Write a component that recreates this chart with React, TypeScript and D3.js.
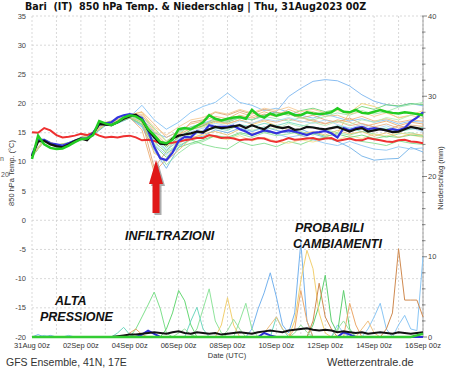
import React, { useEffect } from "react";
import * as d3 from "d3";

const width = 450;
const height = 369;
const plot = { left: 32, right: 423, top: 16, bottom: 337 };

const dateLabels = [
  "31Aug 00z", "02Sep 00z", "04Sep 00z", "06Sep 00z", "08Sep 00z",
  "10Sep 00z", "12Sep 00z", "14Sep 00z", "16Sep 00z",
];
const tempTicks = [35, 30, 25, 20, 15, 10, 5, 0, -5, -10, -15, -20];
const precipTicks = [40, 30, 20, 10, 0];

// 6-hourly main curves (°C)
const meanTemp = [
  11.0, 13.5, 13.6, 13.0, 12.7, 12.5, 13.0, 13.6, 14.0, 13.7,
  14.8, 16.5, 16.4, 16.3, 16.8, 17.4, 17.8, 18.1, 17.2, 15.5,
  14.2, 13.1, 13.0, 14.0, 14.5, 14.7, 14.9, 15.2, 15.1, 15.6,
  16.0, 15.8, 15.9, 16.1, 16.3, 15.8, 16.3, 15.9, 15.6, 16.3,
  16.0, 15.8, 16.0, 15.5, 15.6, 16.0, 15.9, 15.7, 15.6, 15.8,
  16.0, 15.6, 15.2, 15.6, 15.8, 15.2, 15.4, 15.6, 15.4, 15.1,
  15.2, 15.6, 16.0, 15.8, 15.5,
];
const opTemp = [
  10.5, 14.5, 13.0, 12.4, 12.2, 12.3, 12.8, 13.4, 13.9, 14.0,
  14.6, 17.0, 16.6, 16.3, 16.8, 17.6, 18.0, 17.8, 17.2, 15.6,
  14.6, 13.4, 13.2, 13.8, 15.6, 15.8, 15.6, 16.2, 16.8, 18.0,
  17.4, 17.1, 17.4, 17.6, 17.7, 17.4, 18.9, 18.0, 17.6, 18.3,
  17.9, 18.2, 18.5, 18.0, 18.0, 18.5, 18.3, 18.2, 18.3, 18.5,
  19.2, 18.6, 18.5, 18.9, 18.4, 18.3, 18.6, 18.9, 18.6, 18.4,
  18.3, 18.5, 18.4, 18.2, 18.0,
];
const ctrlTemp = [
  11.2, 13.8, 13.8, 13.2, 13.0, 12.8, 13.2, 13.6, 14.0, 14.0,
  15.0, 16.4, 16.6, 16.8, 17.6, 18.0, 18.2, 18.0, 17.5, 15.4,
  12.6, 10.6, 10.3, 11.6, 13.6, 14.3, 14.2, 15.2, 15.0, 16.3,
  16.0, 16.0, 16.0, 16.2, 15.6, 15.2, 14.6, 15.0, 15.4, 15.2,
  14.9, 15.2, 15.4, 15.2, 14.9, 14.6, 15.0, 15.1, 15.3, 14.9,
  14.2, 15.8, 15.4, 15.8, 16.0, 15.6, 15.8, 15.6, 15.4, 15.6,
  15.4, 15.8, 16.9, 17.6, 18.5,
];
const climTemp = [
  15.1, 15.0, 15.8, 15.4, 14.6, 14.2, 14.3, 14.5, 14.8, 14.6,
  15.0, 14.5, 14.2, 14.3, 14.2, 14.4, 14.5, 14.2, 13.7, 13.8,
  13.6, 13.2, 13.2, 13.3, 13.5, 13.7, 13.9, 14.1, 14.1, 14.6,
  14.4, 14.1, 14.2, 14.0, 13.7, 13.9, 13.8, 14.1, 14.0, 13.6,
  13.4, 13.7, 14.1, 13.8, 13.9, 14.0, 14.1, 13.8, 14.0, 14.1,
  13.6, 13.8, 14.0, 13.7, 13.7, 14.1, 13.9, 13.7, 13.5, 13.4,
  13.7, 13.8, 13.5, 13.4, 13.2,
];

// 12-hourly ensemble members (°C)
const memberColors = [
  "#74b2ee", "#80bff5", "#6aaee8", "#eca86a", "#dca070", "#f2d070",
  "#8ee49a", "#7edc8a", "#66d070", "#70d8c0", "#f0b47a", "#8cc4f2",
  "#9ae8a6", "#f5dc8a", "#e2b088", "#6fd67c", "#a8d8f8", "#f6c890",
  "#b4ecb4", "#e8c070",
];
const memberTemps = [
  [11.1, 13.8, 12.8, 13.2, 14.1, 14.9, 16.4, 16.9, 17.9, 17.5, 15.0, 14.2, 15.2, 16.0, 16.6, 17.4, 17.0, 17.8, 17.2, 18.0, 18.6, 21.2, 22.6, 23.8, 24.1, 23.9, 23.0, 21.5, 20.4, 19.8, 19.5, 20.0, 19.6],
  [11.0, 13.7, 12.6, 13.0, 13.9, 14.8, 16.3, 17.0, 17.7, 19.7, 17.2, 15.6, 16.8, 18.5, 19.5, 20.2, 21.8, 20.2, 19.7, 18.8, 19.2, 18.5, 18.0, 17.5, 18.2, 17.6, 17.0, 17.4, 16.8, 17.2, 16.5, 17.0, 16.8],
  [11.2, 13.6, 12.5, 12.9, 13.8, 14.6, 16.2, 16.6, 17.5, 16.0, 12.0, 8.9, 12.5, 14.0, 14.4, 15.5, 15.0, 15.8, 15.2, 16.0, 15.4, 15.0, 15.6, 14.8, 14.2, 13.5, 12.5, 11.0, 10.3, 10.5, 10.6, 12.5, 11.7],
  [10.9, 13.7, 12.8, 13.0, 14.0, 14.7, 16.5, 16.9, 17.6, 15.5, 8.2, 10.5, 13.8, 15.5, 16.2, 17.5, 17.0, 18.0, 17.5, 18.2, 17.8, 18.5, 17.6, 17.0, 16.5, 17.2, 16.8, 16.0, 16.5, 17.0, 16.2, 16.8, 16.5],
  [11.0, 13.5, 12.6, 13.1, 13.9, 14.9, 16.6, 17.2, 17.9, 17.0, 9.0, 11.8, 14.5, 16.8, 17.2, 18.5, 18.0, 18.8, 18.2, 19.0, 18.5, 18.2, 17.5, 18.0, 17.2, 16.8, 17.5, 16.5, 16.0, 15.5, 16.2, 15.8, 16.0],
  [11.1, 13.9, 12.9, 13.2, 14.2, 15.1, 16.8, 17.3, 18.1, 18.5, 15.5, 13.5, 14.8, 15.6, 16.0, 16.8, 16.5, 17.2, 16.4, 17.0, 16.2, 15.5, 14.5, 13.8, 14.2, 15.0, 18.5, 20.0, 19.5, 18.6, 17.5, 18.0, 18.8],
  [10.8, 13.6, 12.7, 13.0, 14.0, 14.8, 16.4, 16.9, 17.7, 16.8, 12.5, 9.5, 11.5, 13.0, 13.5, 14.5, 14.0, 14.8, 14.2, 15.0, 14.5, 14.8, 15.2, 14.6, 15.5, 15.0, 14.6, 15.2, 14.8, 14.2, 14.8, 15.0, 14.5],
  [10.9, 13.8, 12.8, 13.1, 14.1, 14.9, 16.5, 17.0, 17.6, 16.5, 13.5, 11.5, 12.8, 13.8, 13.0, 12.5, 12.2, 13.5, 12.8, 13.2, 12.6, 13.5, 13.0, 13.8, 14.2, 13.6, 14.0, 13.5, 13.2, 12.8, 13.6, 13.2, 13.0],
  [11.0, 13.7, 12.9, 13.3, 14.2, 15.0, 16.7, 17.1, 17.9, 17.6, 14.5, 12.5, 14.2, 15.5, 16.2, 17.0, 16.8, 17.6, 17.2, 18.0, 18.4, 18.0, 18.8, 19.2, 18.6, 19.0, 18.5, 19.5, 19.0, 19.8, 19.6, 20.0, 19.8],
  [11.1, 13.6, 12.7, 13.1, 14.0, 14.8, 16.3, 16.8, 17.6, 17.2, 13.8, 12.0, 13.6, 14.8, 15.2, 15.8, 15.4, 16.4, 16.0, 16.6, 16.2, 16.8, 16.3, 16.0, 15.6, 16.2, 15.8, 15.2, 15.5, 15.8, 15.2, 15.6, 15.9],
  [11.0, 13.8, 12.9, 13.2, 14.1, 14.9, 16.6, 17.1, 18.0, 18.6, 16.5, 14.2, 15.2, 16.5, 17.0, 17.8, 17.4, 18.5, 17.8, 18.6, 17.9, 19.0, 18.2, 18.6, 17.8, 18.0, 17.2, 17.8, 17.0, 17.4, 16.8, 17.2, 17.0],
  [11.2, 13.7, 12.6, 13.0, 13.9, 14.7, 16.4, 16.8, 17.6, 16.2, 13.0, 11.2, 13.2, 14.5, 15.4, 16.0, 15.8, 16.5, 15.2, 15.8, 14.8, 14.2, 14.6, 13.8, 13.2, 12.8, 13.5, 12.8, 12.2, 12.0, 12.6, 12.2, 12.4],
  [10.9, 13.9, 12.8, 13.1, 14.0, 15.0, 16.6, 17.2, 18.0, 17.8, 15.8, 13.6, 15.0, 16.0, 16.5, 17.2, 17.0, 17.5, 17.2, 17.8, 17.4, 17.0, 17.6, 17.2, 17.8, 18.4, 18.0, 18.8, 18.2, 18.6, 19.4, 19.8, 20.2],
  [11.0, 13.7, 12.7, 13.0, 14.0, 14.9, 16.5, 17.0, 17.8, 17.4, 14.8, 12.8, 13.5, 14.2, 14.6, 14.2, 13.8, 14.5, 13.6, 14.2, 13.5, 13.2, 13.8, 13.4, 14.0, 13.8, 14.5, 14.0, 14.8, 14.4, 15.0, 14.6, 14.2],
  [11.1, 13.8, 12.8, 13.2, 14.1, 15.0, 16.6, 17.2, 18.1, 18.0, 15.2, 13.0, 14.6, 15.8, 16.4, 17.0, 16.6, 17.2, 16.6, 17.2, 16.8, 17.4, 16.8, 17.2, 16.6, 17.0, 16.2, 16.6, 16.0, 16.5, 15.8, 16.3, 16.1],
  [10.9, 13.6, 12.6, 13.0, 13.9, 14.7, 16.3, 16.7, 17.5, 16.4, 12.8, 10.8, 12.5, 13.2, 13.8, 14.5, 14.2, 15.0, 14.6, 15.2, 14.8, 15.4, 14.6, 15.0, 14.4, 14.8, 14.2, 14.6, 14.0, 14.4, 14.2, 14.6, 14.4],
  [11.0, 13.6, 12.7, 13.1, 14.0, 14.8, 16.4, 17.0, 17.8, 17.0, 14.0, 12.2, 14.0, 15.2, 15.8, 16.6, 16.2, 17.0, 16.6, 17.4, 17.0, 17.6, 17.0, 16.6, 17.2, 16.4, 15.8, 16.4, 15.6, 16.2, 15.4, 15.8, 15.2],
  [11.1, 13.7, 12.8, 13.2, 14.1, 15.0, 16.6, 17.1, 17.9, 18.2, 16.0, 14.6, 16.0, 17.2, 17.6, 18.6, 18.2, 19.0, 18.4, 19.2, 18.8, 19.4, 18.6, 19.0, 18.4, 18.8, 18.2, 18.6, 17.8, 18.4, 17.6, 18.0, 17.4],
  [10.9, 13.8, 12.7, 13.0, 14.0, 14.8, 16.4, 16.9, 17.7, 17.0, 13.2, 11.8, 13.0, 14.6, 15.0, 16.2, 15.6, 16.2, 15.4, 16.0, 15.6, 16.6, 16.0, 16.8, 16.2, 17.0, 16.4, 17.2, 16.8, 17.6, 17.2, 18.0, 18.4],
  [11.0, 13.6, 12.6, 13.0, 13.9, 14.8, 16.4, 16.9, 17.6, 16.8, 11.5, 10.2, 12.0, 14.0, 14.8, 15.2, 14.6, 15.6, 14.8, 15.4, 14.8, 15.6, 14.8, 15.2, 14.6, 15.4, 14.8, 15.2, 14.4, 15.0, 14.2, 14.8, 14.6],
];

// 6-hourly precipitation (mm)
const meanPrecip = [
  0, 0, 0, 0, 0, 0, 0, 0, 0, 0,
  0, 0, 0, 0, 0.1, 0.2, 0.3, 0.3, 0.4, 0.5,
  0.6, 0.5, 0.4, 0.6, 0.7, 0.5, 0.4, 0.6, 0.5, 0.4,
  0.5, 0.3, 0.4, 0.5, 0.6, 0.5, 0.4, 0.6, 0.7, 0.8,
  0.7, 0.6, 0.8, 0.9, 1.0, 1.1, 0.9, 0.8, 0.9, 0.8,
  0.6, 0.7, 0.6, 0.5, 0.6, 0.4, 0.5, 0.6, 0.5, 0.4,
  0.6, 0.5, 0.4, 0.5, 0.6,
];
const ctrlPrecip = [
  0, 0, 0, 0, 0, 0, 0, 0, 0, 0,
  0, 0, 0, 0, 0, 0, 0, 0, 0.3, 0.8,
  0.4, 0, 0, 0, 0, 0, 0, 0, 0, 0,
  0, 0, 0, 0, 0, 0, 0, 0, 0.5, 0.2,
  0, 0, 0, 0, 0, 0, 0, 0, 0, 0,
  0, 0.6, 0.3, 0, 0, 0, 0, 0, 0, 0,
  0, 0, 0, 0, 0,
];
const opPrecip = [
  0, 0, 0, 0, 0, 0, 0, 0, 0, 0,
  0, 0, 0, 0, 0, 0, 0, 0, 0, 0,
  0, 0, 0, 0, 0, 0, 0, 0, 0, 0,
  0, 0, 0, 0, 0, 0, 0, 0, 0, 0,
  0, 0, 0, 0, 0, 0, 0, 0, 0, 0,
  0, 0, 0, 0, 0, 0, 0, 0, 0, 0,
  0, 0, 0, 0.2, 0.4,
];
const precipColors = [
  "#74b2ee", "#8ac6f5", "#7ee08c", "#66d874", "#8fe49c", "#5fcf70",
  "#f2d070", "#eca86a", "#d08a50", "#70d8c0", "#9ae0a0", "#f0c080",
];
const memberPrecips = [
  [0, 0.3, 0, 0.2, 0, 0, 0, 0, 0, 0, 0, 0, 0, 0, 0, 0, 0, 0, 0, 0, 0, 0, 0, 0, 0, 0, 0, 0, 0, 0, 0, 0, 0, 0, 0, 0, 1, 3.5, 5.5, 8, 5, 1.5, 0.5, 3, 11.8, 2, 0, 0, 0, 0, 0, 0, 0, 0, 0, 0, 0, 0, 0, 0, 0, 0, 0, 0, 0],
  [0, 0, 0.2, 0, 0, 0, 0.2, 0, 0, 0, 0, 0, 0, 0, 0, 0, 0, 0, 0, 0, 0, 0, 0, 0, 0, 0, 0, 0, 0, 0, 0, 0, 0, 0, 0, 0, 0, 0, 0, 0, 0, 0, 0, 0, 0, 0, 0, 0, 0, 0, 1.5, 0.5, 0, 0, 0, 1, 2.5, 4.2, 1, 0, 1.5, 2.7, 1, 0.8, 10],
  [0, 0, 0, 0, 0, 0, 0, 0, 0, 0, 0, 0, 0, 0, 0, 0, 0, 1, 2.5, 4, 5.6, 3.5, 0.5, 0, 0, 0, 0, 0, 0, 0, 0, 0, 0, 0, 0, 0, 0, 0, 0, 0, 0, 0, 0, 0, 0, 0, 0, 0, 0, 0, 0, 0, 0, 0, 0, 0, 0, 0, 0, 0, 0, 0, 0, 0, 0],
  [0, 0, 0, 0, 0, 0, 0, 0, 0, 0, 0, 0, 0, 0, 0, 0, 0, 0, 0, 0, 0, 0, 1, 3, 5.8, 4.5, 1.5, 0, 0, 0, 0, 0, 0, 0, 0, 0, 0, 0, 0, 0, 0, 0, 0, 0, 0, 0, 0, 0, 0, 0, 0, 0, 0, 0, 0, 0, 0, 0, 0, 0, 0, 0, 0, 0, 0],
  [0, 0, 0, 0, 0, 0, 0, 0, 0, 0, 0, 0, 0, 0, 0, 0, 0, 0, 0, 0, 0, 0, 0, 0, 0, 0, 0, 1, 3.5, 6, 2, 0.5, 0, 0, 2, 4.2, 1, 0, 0, 0, 0, 0, 0, 0, 0, 0, 0, 0, 0, 0, 0, 0, 0, 0, 0, 0, 0, 0, 0, 0, 0, 0, 0, 0, 0],
  [0, 0, 0, 0, 0, 0, 0, 0, 0, 0, 0, 0, 0, 0, 0, 0, 0, 0, 0, 0, 0, 0, 0, 0, 0, 0, 0, 0, 0, 0, 0, 0, 0, 0, 0, 0, 0, 0, 0, 0, 0, 0, 0, 0, 0, 0, 1.5, 4, 7.7, 2, 0.5, 5.8, 1, 0, 0, 0, 0, 0, 0, 0, 0, 0, 0, 0, 0],
  [0, 0, 0, 0, 0, 0, 0, 0, 0, 0, 0, 0, 0, 0, 0, 0, 0, 0, 0, 0, 0, 0, 0, 0, 0, 0, 0, 0, 0, 0, 0, 1.5, 4.9, 1.5, 0, 0, 0, 0, 0, 0, 0, 0, 0, 2, 7, 10.8, 8.5, 3, 0.5, 0, 0, 0, 0, 0, 0, 0, 0, 0, 0, 0, 0, 0, 0, 0, 0],
  [0, 0, 0, 0, 0, 0, 0, 0, 0, 0, 0, 0, 0, 0, 0, 0, 0.5, 1, 0.3, 0, 0, 0, 0, 0, 0, 0, 0, 0, 0, 0, 0, 0, 0, 0, 0, 0, 0, 0, 0, 0, 0, 0, 0, 1, 5.8, 2, 0, 0, 0, 0, 0, 0, 4.2, 1.5, 0, 0, 0, 0, 0, 0, 0, 0, 0, 0, 0],
  [0, 0, 0, 0, 0, 0, 0, 0, 0, 0, 0, 0, 0, 0, 0, 0, 0, 0, 0, 0, 0, 0, 0, 0, 0, 0, 0, 0, 0, 0, 0, 0, 0, 0, 0, 0, 0, 0, 0, 0, 0, 0, 0, 0, 0, 0, 2, 6.7, 2.5, 1, 0, 0, 0, 0, 0, 0, 0, 0, 1, 3, 11, 4.6, 4.6, 4.6, 2.5],
  [0, 0, 0, 0, 0, 0, 0, 0, 0, 0, 0, 0, 0, 0, 0.5, 1.2, 0.3, 0, 0, 0, 0, 0, 0, 0, 0, 0, 2, 3.7, 1, 0, 0, 0, 0, 0, 0, 0, 0, 0, 0, 0, 2.5, 1, 0, 0, 0, 0, 0, 0, 0, 0, 0, 0, 0, 0, 0, 0, 0, 0, 0, 0, 0, 0, 0, 0, 0],
  [0, 0, 0, 0, 0, 0, 0, 0, 0, 0, 0, 0, 0, 0, 0, 0, 0, 0, 0, 0, 0, 0, 0, 0, 0.5, 1, 0.3, 0, 0, 0, 0, 0, 0.8, 2.2, 1, 0, 0, 0, 0, 0, 0, 0, 0, 0.5, 1.5, 0.6, 0, 0, 0, 0, 1, 2, 0.8, 0, 0, 0, 0, 0, 0, 0, 0, 0, 0, 0, 0],
  [0, 0, 0, 0, 0, 0, 0, 0, 0, 0, 0, 0, 0, 0, 0, 0, 0, 0, 0, 0, 0, 0, 0, 0, 0, 0, 0, 0, 0, 0, 0, 0, 0, 0, 0, 0, 0, 0, 0.5, 1.5, 2.5, 1, 0.3, 0, 0, 0, 0, 0, 0, 0, 0, 0, 0, 0, 1, 2, 0.5, 0, 0, 0, 0, 0, 0, 0, 0],
];

const font = "'Liberation Sans', Arial, sans-serif";
const fontDv = "'DejaVu Sans', Verdana, sans-serif";

export default function App() {
  useEffect(() => {
    document.body.style.margin = "0";
  }, []);

  const x = d3.scaleLinear().domain([0, 16]).range([plot.left, plot.right]);
  const yT = d3.scaleLinear().domain([-20, 35]).range([plot.bottom, plot.top]);
  const yP = d3.scaleLinear().domain([0, 40]).range([plot.bottom, plot.top]);

  const path = (vals: number[], step: number, y: d3.ScaleLinear<number, number>) =>
    d3
      .line<number>()
      .x((_, i) => x(i * step))
      .y((v) => y(v))(vals) || "";

  const days = d3.range(0, 17);
  const precipMinor = d3.range(0, 41, 2);

  return (
    <svg width={width} height={height} style={{ display: "block", background: "#fff" }}>
      <rect width={width} height={height} fill="#fff" />
      <text x={25} y={10} fontFamily={fontDv} fontWeight="bold" fontSize={9.6} fill="#111" style={{ whiteSpace: "pre" }}>
        {"Bari  (IT)  850 hPa Temp. & Niederschlag | Thu, 31Aug2023 00Z"}
      </text>

      {/* grid */}
      {days.map((d) => (
        <line key={"v" + d} x1={x(d)} x2={x(d)} y1={plot.top} y2={plot.bottom} stroke="#cfcfcf" strokeDasharray="2,2" strokeWidth={0.8} />
      ))}
      {tempTicks.map((t) => (
        <line key={"h" + t} x1={plot.left} x2={plot.right} y1={yT(t)} y2={yT(t)} stroke="#cfcfcf" strokeDasharray="2,2" strokeWidth={0.8} />
      ))}

      {/* right axis */}
      <line x1={plot.right} x2={plot.right} y1={plot.top} y2={plot.bottom} stroke="#666" strokeWidth={0.6} />
      {precipMinor.map((p) => (
        <line key={"pt" + p} x1={plot.right - 1} x2={plot.right + (p % 10 === 0 ? 4 : 2.5)} y1={yP(p)} y2={yP(p)} stroke="#555" strokeWidth={0.7} />
      ))}
      {precipTicks.map((p) => (
        <text key={"pl" + p} x={428} y={yP(p) + 2.5} fontFamily={font} fontSize={7.5} fill="#444">{p}</text>
      ))}
      {tempTicks.map((t) => (
        <text key={"tl" + t} x={26} y={yT(t) + 2.5} textAnchor="end" fontFamily={font} fontSize={7.5} fill="#444">{t}</text>
      ))}
      {dateLabels.map((l, i) => (
        <text key={l} x={x(i * 2)} y={348} textAnchor="middle" fontFamily={font} fontSize={7.5} fill="#333">{l}</text>
      ))}
      <text x={227} y={358} textAnchor="middle" fontFamily={font} fontSize={7.5} fill="#333">Date (UTC)</text>
      <text transform="translate(14,173) rotate(-90)" textAnchor="middle" fontFamily={font} fontSize={7.5} fill="#333">850 hPa Temp. (°C)</text>
      <text transform="translate(443,178) rotate(-90)" textAnchor="middle" fontFamily={font} fontSize={7.5} fill="#333">Niederschlag (mm)</text>
      <text x={0} y={161} fontFamily={font} fontSize={7} fill="#555">n</text>
      <text x={1} y={177} fontFamily={font} fontSize={7} fill="#555">20</text>

      {/* precipitation */}
      {memberPrecips.map((p, i) => (
        <path key={"mp" + i} d={path(p, 0.25, yP)} fill="none" stroke={precipColors[i]} strokeWidth={1} />
      ))}
      <path d={path(ctrlPrecip, 0.25, yP)} fill="none" stroke="#2f2fd8" strokeWidth={2} />
      <path d={path(meanPrecip, 0.25, yP)} fill="none" stroke="#111" strokeWidth={2} />
      <path d={path(opPrecip, 0.25, yP)} fill="none" stroke="#33cc33" strokeWidth={2.5} />

      {/* temperature */}
      {memberTemps.map((m, i) => (
        <path key={"mt" + i} d={path(m, 0.5, yT)} fill="none" stroke={memberColors[i]} strokeWidth={1} opacity={0.85} />
      ))}
      <path d={path(climTemp, 0.25, yT)} fill="none" stroke="#ee3030" strokeWidth={2} />
      <path d={path(ctrlTemp, 0.25, yT)} fill="none" stroke="#3333dd" strokeWidth={2.2} />
      <path d={path(meanTemp, 0.25, yT)} fill="none" stroke="#111" strokeWidth={2.2} />
      <path d={path(opTemp, 0.25, yT)} fill="none" stroke="#22cc22" strokeWidth={2.5} />

      {/* annotations */}
      <polygon points="158,162 165,186 161.5,186 161.5,215 154.5,215 154.5,186 151,186" fill="#777" opacity={0.6} />
      <polygon points="156,160 163,184 159.5,184 159.5,213 152.5,213 152.5,184 149,184" fill="#e01818" />
      <g fontFamily={font} fontWeight="bold" fontStyle="italic" fontSize={12.5} fill="#111">
        <text x={125} y={240}>INFILTRAZIONI</text>
        <text x={295} y={232}>PROBABILI</text>
        <text x={293} y={248}>CAMBIAMENTI</text>
        <text x={55} y={305}>ALTA</text>
        <text x={40} y={321}>PRESSIONE</text>
      </g>

      <text x={6} y={366} fontFamily={font} fontSize={10.5} fill="#333">GFS Ensemble, 41N, 17E</text>
      <text x={327} y={366} fontFamily={font} fontSize={11} fill="#333">Wetterzentrale.de</text>
    </svg>
  );
}
